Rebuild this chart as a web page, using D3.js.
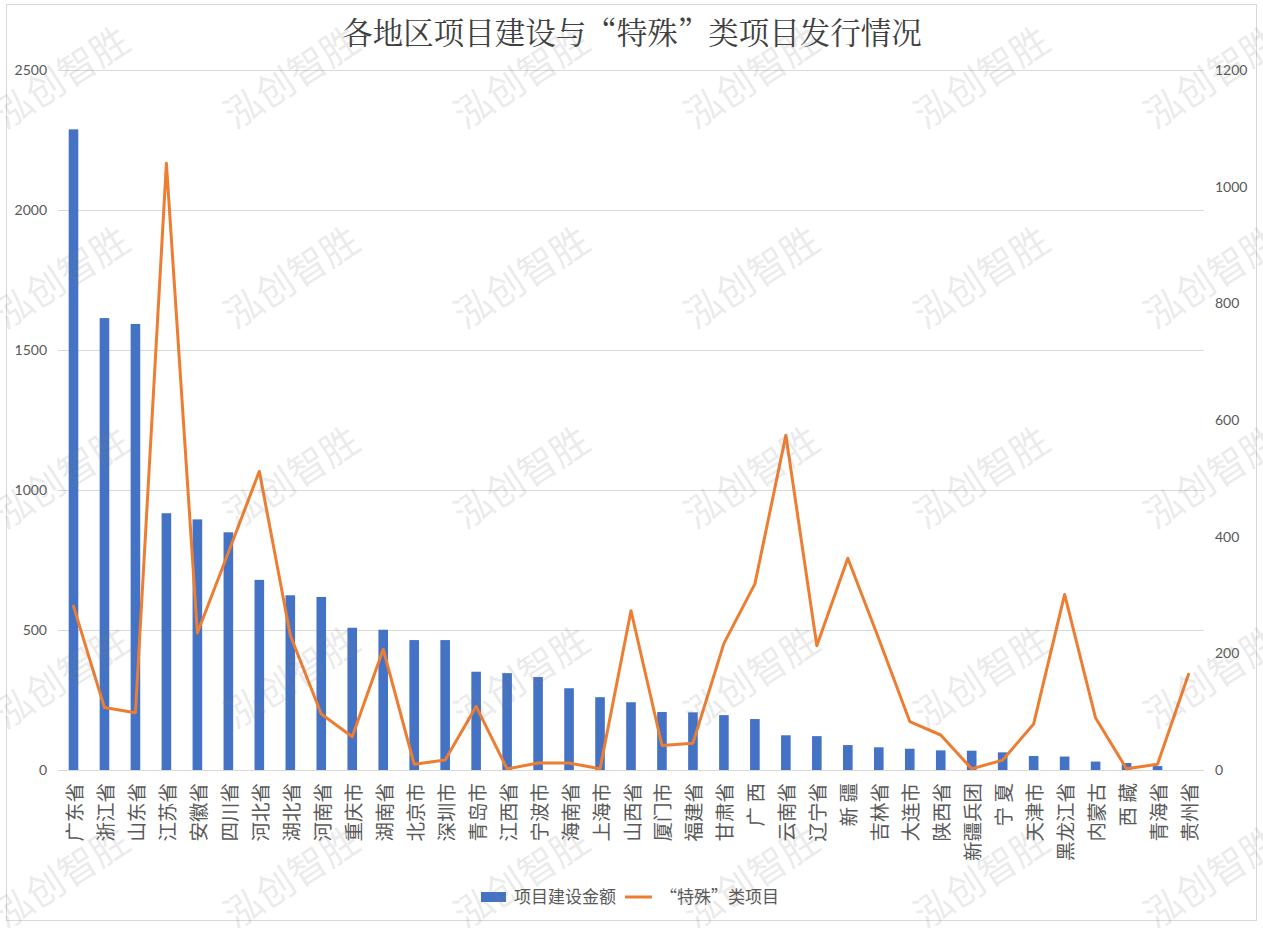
<!DOCTYPE html>
<html>
<head>
<meta charset="utf-8">
<script src="https://cdnjs.cloudflare.com/ajax/libs/d3/7.8.5/d3.min.js"></script>
<style>
  body { margin: 0; background: #fff; }
  svg { display: block; }
</style>
</head>
<body>
<script>
var width = 1263;
var height = 928;

// data
var regions = ["广东省", "浙江省", "山东省", "江苏省", "安徽省", "四川省", "河北省", "湖北省", "河南省", "重庆市",
               "湖南省", "北京市", "深圳市", "青岛市", "江西省", "宁波市", "海南省", "上海市", "山西省", "厦门市",
               "福建省", "甘肃省", "广 西", "云南省", "辽宁省", "新 疆", "吉林省", "大连市", "陕西省", "新疆兵团",
               "宁 夏", "天津市", "黑龙江省", "内蒙古", "西 藏", "青海省", "贵州省"];
var buildAmount = [2288, 1614, 1593, 917, 895, 849, 679, 624, 618, 508,
                   501, 464, 464, 351, 346, 332, 292, 260, 242, 207,
                   206, 196, 182, 124, 121, 89, 81, 76, 70, 69,
                   63, 50, 48, 30, 25, 14, 0];
var specialCount = [281, 107, 98, 1040, 235, 373, 512, 231, 96, 57,
                    207, 10, 17, 109, 2, 12, 12, 2, 273, 42,
                    46, 217, 319, 574, 213, 363, 225, 83, 60, 2,
                    17, 79, 301, 89, 2, 10, 164];
var leftTicks = [0, 500, 1000, 1500, 2000, 2500];
var rightTicks = [0, 200, 400, 600, 800, 1000, 1200];
var seriesNames = ["项目建设金额", "“特殊”类项目"];
var chartTitle = "各地区项目建设与“特殊”类项目发行情况";
var watermark = "泓创智胜";

var barColor = "#4472C4";
var lineColor = "#ED7D31";
var textColor = "#595959";
var gridColor = "#d9d9d9";
var cjk = "'Noto Sans CJK SC', 'Noto Sans', sans-serif";
var num = "Lato, 'Liberation Sans', sans-serif";

var plot = {left: 58, right: 1204, top: 70, bottom: 770};

var svg = d3.select("body")
            .append("svg")
            .attr("width", width)
            .attr("height", height);

// chart area border
svg.append("rect")
   .attr("x", 6.5).attr("y", 4.5)
   .attr("width", 1250).attr("height", 916)
   .attr("fill", "#fff")
   .attr("stroke", gridColor);

var x = d3.scaleBand()
          .domain(regions)
          .range([plot.left, plot.right])
          .padding(0);

var yLeft = d3.scaleLinear()
              .domain([0, 2500])
              .range([plot.bottom, plot.top]);

var yRight = d3.scaleLinear()
               .domain([0, 1200])
               .range([plot.bottom, plot.top]);

// gridlines
svg.append("g")
   .selectAll("line")
   .data(leftTicks)
   .join("line")
   .attr("x1", plot.left)
   .attr("x2", plot.right)
   .attr("y1", function(d) { return Math.round(yLeft(d)) + 0.5; })
   .attr("y2", function(d) { return Math.round(yLeft(d)) + 0.5; })
   .attr("stroke", gridColor)
   .attr("stroke-width", 1.2);

// left axis
var leftAxis = svg.append("g")
                  .attr("transform", "translate(" + plot.left + ",0)")
                  .call(d3.axisLeft(yLeft).tickValues(leftTicks).tickFormat(d3.format("d")).tickSize(0).tickPadding(11));
leftAxis.select(".domain").remove();
leftAxis.selectAll("text")
        .attr("fill", textColor)
        .style("font-family", num)
        .style("font-size", "14px");

// right axis
var rightAxis = svg.append("g")
                   .attr("transform", "translate(" + plot.right + ",0)")
                   .call(d3.axisRight(yRight).tickValues(rightTicks).tickFormat(d3.format("d")).tickSize(0).tickPadding(11));
rightAxis.select(".domain").remove();
rightAxis.selectAll("text")
         .attr("fill", textColor)
         .style("font-family", num)
         .style("font-size", "14px");

// bars
var barW = x.bandwidth() * 0.31;
svg.append("g")
   .selectAll("rect")
   .data(regions)
   .join("rect")
   .attr("x", function(d) { return x(d) + x.bandwidth() / 2 - barW / 2; })
   .attr("y", function(d, i) { return yLeft(buildAmount[i]); })
   .attr("width", barW)
   .attr("height", function(d, i) { return plot.bottom - yLeft(buildAmount[i]); })
   .attr("fill", barColor);

// line on the secondary axis
var line = d3.line()
             .x(function(d, i) { return x(regions[i]) + x.bandwidth() / 2; })
             .y(function(d) { return yRight(d); });

svg.append("path")
   .datum(specialCount)
   .attr("d", line)
   .attr("fill", "none")
   .attr("stroke", lineColor)
   .attr("stroke-width", 3)
   .attr("stroke-linejoin", "round")
   .attr("stroke-linecap", "round");

// category labels, rotated to read bottom to top
svg.append("g")
   .selectAll("text")
   .data(regions)
   .join("text")
   .attr("transform", function(d) {
       return "translate(" + (x(d) + x.bandwidth() / 2) + "," + 783 + ") rotate(-90)";
   })
   .attr("text-anchor", "end")
   .attr("dominant-baseline", "central")
   .attr("fill", textColor)
   .style("font-family", cjk)
   .style("font-size", "19.5px")
   .text(function(d) { return d; });

// title
svg.append("text")
   .attr("x", 632)
   .attr("y", 44)
   .attr("text-anchor", "middle")
   .attr("fill", "#404040")
   .style("font-family", "'Noto Serif CJK SC', 'Noto Sans CJK SC', serif")
   .style("font-size", "30.5px")
   .text(chartTitle);

// legend
var legend = svg.append("g");
legend.append("rect")
      .attr("x", 481).attr("y", 892)
      .attr("width", 25).attr("height", 10)
      .attr("fill", barColor);
legend.append("text")
      .attr("x", 514).attr("y", 903)
      .attr("fill", textColor)
      .style("font-family", cjk)
      .style("font-size", "17px")
      .text(seriesNames[0]);
legend.append("line")
      .attr("x1", 625).attr("x2", 652)
      .attr("y1", 897).attr("y2", 897)
      .attr("stroke", lineColor)
      .attr("stroke-width", 3);
legend.append("text")
      .attr("x", 660).attr("y", 903)
      .attr("fill", textColor)
      .style("font-family", cjk)
      .style("font-size", "17px")
      .text(seriesNames[1]);

// watermark grid over everything
var marks = [];
d3.range(6).forEach(function(i) {
    d3.range(5).forEach(function(j) {
        marks.push([60 + 230 * i, 75 + 200 * j]);
    });
});
svg.append("g")
   .style("pointer-events", "none")
   .selectAll("text")
   .data(marks)
   .join("text")
   .attr("transform", function(d) { return "translate(" + d[0] + "," + d[1] + ") rotate(-33)"; })
   .attr("text-anchor", "middle")
   .attr("dominant-baseline", "central")
   .attr("fill", "#7f7f7f")
   .attr("fill-opacity", 0.17)
   .style("font-family", cjk)
   .style("font-size", "38px")
   .text(watermark);
</script>
</body>
</html>
